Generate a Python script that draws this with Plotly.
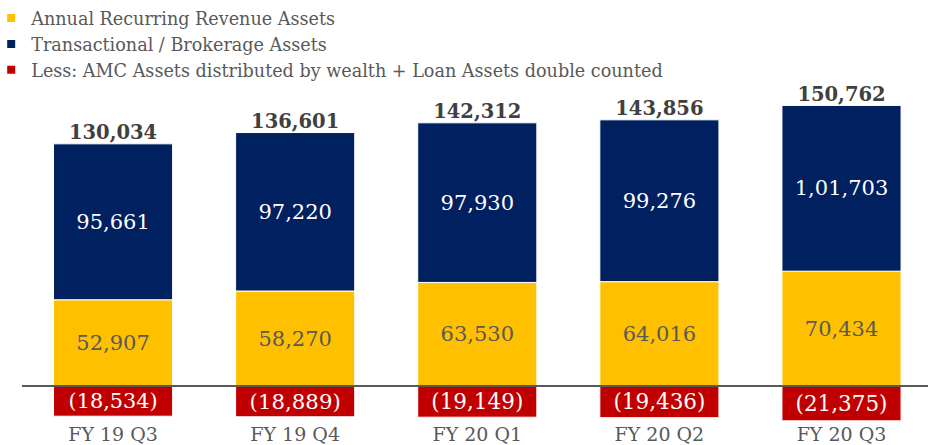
import plotly.graph_objects as go

categories = ["FY 19 Q3", "FY 19 Q4", "FY 20 Q1", "FY 20 Q2", "FY 20 Q3"]
arr_assets = [52907, 58270, 63530, 64016, 70434]
transactional_assets = [95661, 97220, 97930, 99276, 101703]
less_assets = [-18534, -18889, -19149, -19436, -21375]
totals = [130034, 136601, 142312, 143856, 150762]

series_names = [
    "Annual Recurring Revenue Assets",
    "Transactional / Brokerage Assets",
    "Less: AMC Assets distributed by wealth + Loan Assets double counted",
]
colors = ["#FFC000", "#002060", "#C00000"]
FONT = "DejaVu Serif"
GRAY = "#595959"


def indian(n):
    s = str(abs(int(n)))
    if len(s) > 3:
        head, tail = s[:-3], s[-3:]
        parts = []
        while len(head) > 2:
            parts.insert(0, head[-2:])
            head = head[:-2]
        if head:
            parts.insert(0, head)
        s = ",".join(parts) + "," + tail
    return s


fig = go.Figure()

bar_series = [
    (arr_assets, [indian(v) for v in arr_assets], GRAY, 21),
    (transactional_assets, [indian(v) for v in transactional_assets], "white", 21),
    (less_assets, ["(" + indian(v) + ")" for v in less_assets], "white", 21.5),
]
for (vals, txt, tcol, tsize), name, col in zip(bar_series, series_names, colors):
    fig.add_trace(go.Bar(
        x=categories, y=vals, name=name, marker=dict(color=col, line=dict(width=1, color="#ffffff")),
        text=txt, textposition="inside", insidetextanchor="middle", textangle=0,
        insidetextfont=dict(family=FONT, size=tsize, color=tcol),
        showlegend=False, hoverinfo="skip",
    ))
    fig.add_trace(go.Scatter(
        x=[categories[0]], y=[None], mode="markers", name=name,
        marker=dict(symbol="square", size=8, color=col),
    ))

tops = [a + t for a, t in zip(arr_assets, transactional_assets)]
fig.add_trace(go.Scatter(
    x=categories, y=tops, mode="text", text=[f"{v:,}" for v in totals],
    textposition="top center", textfont=dict(family=FONT, size=19.5, color="#404040", weight="bold"),
    showlegend=False, hoverinfo="skip", cliponaxis=False,
))

fig.add_shape(type="line", xref="paper", yref="y", x0=0, x1=1, y0=0, y1=0,
              line=dict(color=GRAY, width=2), layer="above")

fig.update_layout(
    width=928, height=445,
    margin=dict(l=22, r=0, t=95, b=24, autoexpand=False),
    barmode="relative", bargap=0.346,
    plot_bgcolor="white", paper_bgcolor="white",
    font=dict(family=FONT, color=GRAY),
    showlegend=True,
    legend=dict(x=-0.034, y=1.291, xanchor="left", yanchor="top",
                font=dict(family=FONT, size=17.6, color=GRAY), itemwidth=30, bgcolor="rgba(0,0,0,0)",
                traceorder="normal"),
    xaxis=dict(range=[-0.5, 4.475], showgrid=False, showline=False, zeroline=False, ticks="",
               tickangle=0, automargin=False, tickfont=dict(family=FONT, size=19, color=GRAY)),
    yaxis=dict(range=[-21472, 178528], visible=False, showgrid=False, zeroline=False),
)

fig.write_html("out.html", post_script="document.body.style.margin='0px';",
               config={"displayModeBar": False})
